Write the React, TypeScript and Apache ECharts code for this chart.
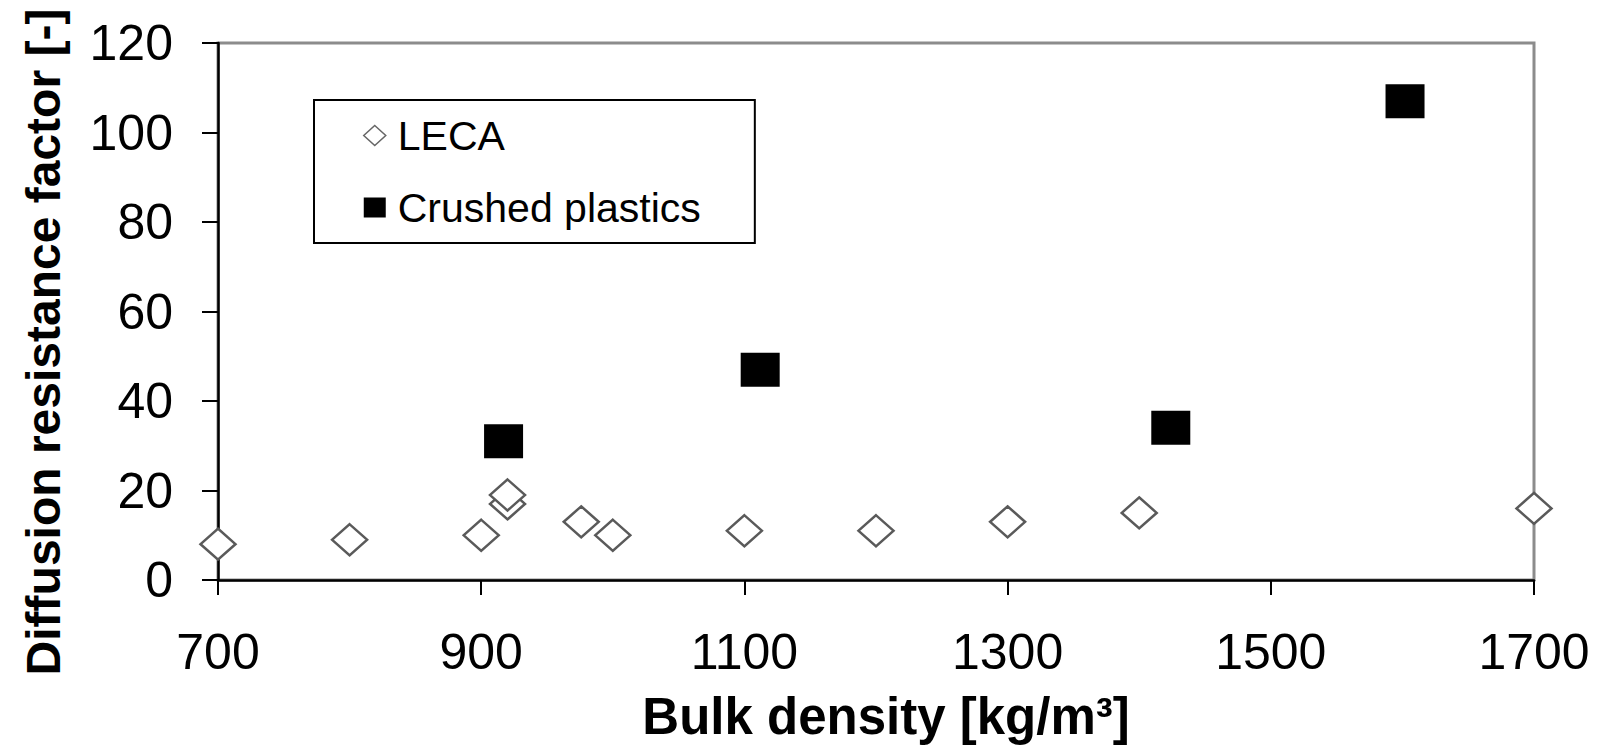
import React, { useEffect, useRef } from "react";
import * as echarts from "echarts";

const FONT = "'Liberation Sans', Arial, sans-serif";

const xTicks = [700, 900, 1100, 1300, 1500, 1700];
const yTicks = [0, 20, 40, 60, 80, 100, 120];

const lecaDensity = [700, 800, 900, 920, 920, 976, 1000, 1100, 1200, 1300, 1400, 1700];
const lecaFactor = [8, 9, 10, 17, 19, 13, 10, 11, 11, 13, 15, 16];

const plasticsDensity = [917, 1112, 1424, 1602];
const plasticsFactor = [31, 47, 34, 107];

const seriesNames = ["LECA", "Crushed plastics"];
const xTitle = "Bulk density [kg/m³]";
const yTitle = "Diffusion resistance factor [-]";

export default function App() {
  const ref = useRef<HTMLDivElement>(null);

  useEffect(() => {
    if (!ref.current) return;
    const chart = echarts.init(ref.current, undefined, { renderer: "svg" });
    const xMin = xTicks[0];
    const xMax = xTicks[xTicks.length - 1];
    const yMin = yTicks[0];
    const yMax = yTicks[yTicks.length - 1];
    chart.setOption({
      animation: false,
      backgroundColor: "#ffffff",
      textStyle: { fontFamily: FONT },
      grid: {
        left: 218,
        top: 43,
        right: 67,
        bottom: 169,
        show: true,
        borderColor: "#8c8c8c",
        borderWidth: 3,
        backgroundColor: "#ffffff",
      },
      xAxis: {
        type: "value",
        min: xMin,
        max: xMax,
        interval: xTicks[1] - xTicks[0],
        splitLine: { show: false },
        axisLine: { show: true, onZero: false, lineStyle: { color: "#000", width: 2.5 } },
        axisTick: { show: true, inside: false, length: 15, lineStyle: { color: "#000", width: 2 } },
        axisLabel: {
          margin: 47,
          fontSize: 50,
          color: "#000",
          fontFamily: FONT,
          formatter: (v: number) => String(v),
        },
      },
      yAxis: {
        type: "value",
        min: yMin,
        max: yMax,
        interval: yTicks[1] - yTicks[0],
        splitLine: { show: false },
        axisLine: { show: true, onZero: false, lineStyle: { color: "#000", width: 2.5 } },
        axisTick: { show: true, inside: false, length: 16, lineStyle: { color: "#000", width: 2 } },
        axisLabel: {
          margin: 45,
          fontSize: 50,
          color: "#000",
          fontFamily: FONT,
          formatter: (v: number) => String(v),
        },
      },
      legend: {
        show: true,
        orient: "vertical",
        left: 314,
        top: 100,
        padding: [15, 54, 15, 49],
        itemGap: 31,
        itemWidth: 22,
        itemHeight: 20,
        borderColor: "#000",
        borderWidth: 2,
        backgroundColor: "#ffffff",
        textStyle: {
          fontSize: 41,
          lineHeight: 41,
          color: "#000",
          fontFamily: FONT,
          padding: [0, 0, 0, 7],
        },
        data: [
          { name: seriesNames[0], icon: "diamond", itemStyle: { color: "#fff", borderColor: "#666", borderWidth: 1.5 } },
          { name: seriesNames[1], icon: "rect", itemStyle: { color: "#000", borderWidth: 0 } },
        ],
      },
      series: [
        {
          name: seriesNames[0],
          type: "scatter",
          symbol: "diamond",
          symbolSize: [35, 31],
          clip: false,
          itemStyle: { color: "#ffffff", borderColor: "#5a5a5a", borderWidth: 2.5, opacity: 1 },
          data: lecaDensity.map((d, i) => [d, lecaFactor[i]]),
        },
        {
          name: seriesNames[1],
          type: "scatter",
          symbol: "rect",
          symbolSize: [39, 34],
          clip: false,
          itemStyle: { color: "#000000", opacity: 1 },
          data: plasticsDensity.map((d, i) => [d, plasticsFactor[i]]),
        },
      ],
      graphic: [
        {
          type: "text",
          x: 886,
          y: 716,
          style: {
            text: xTitle,
            font: `bold 51px ${FONT}`,
            fill: "#000",
            textAlign: "center",
            textVerticalAlign: "middle",
          },
        },
        {
          type: "text",
          x: 43,
          y: 342,
          rotation: Math.PI / 2,
          style: {
            text: yTitle,
            font: `bold 48px ${FONT}`,
            fill: "#000",
            textAlign: "center",
            textVerticalAlign: "middle",
          },
        },
      ],
    });
    return () => chart.dispose();
  }, []);

  return (
    <div
      ref={ref}
      style={{ position: "fixed", left: 0, top: 0, width: 1601, height: 749, background: "#fff" }}
    />
  );
}
